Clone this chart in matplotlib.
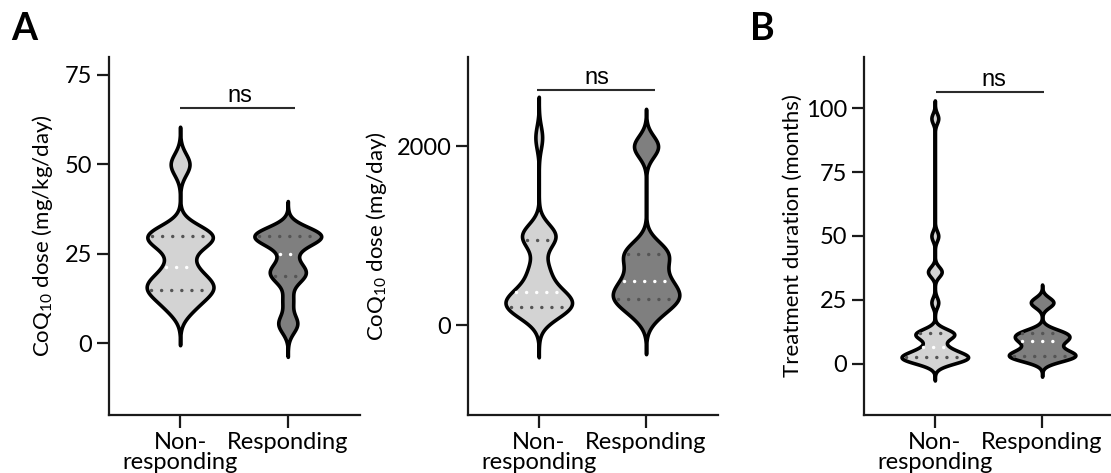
import numpy as np
import matplotlib
matplotlib.use("Agg")
import matplotlib.pyplot as plt

plt.rcParams['font.family'] = ['Lato', 'DejaVu Sans']
plt.rcParams['mathtext.default'] = 'regular'

groups = ["Non-\nresponding", "Responding"]

# A, left: CoQ10 dose (mg/kg/day)
dose_kg_non = [10, 10, 13, 15, 15, 15, 16, 17, 18, 20, 21.4, 25, 28, 29, 30, 30, 30, 31, 31, 50, 50]
dose_kg_resp = [5, 6, 12, 18, 19.5, 20, 21, 25, 29, 30, 30, 30, 30, 30, 31]

# A, right: CoQ10 dose (mg/day)
dose_day_non = [100, 150, 200, 200, 200, 210, 250, 300, 300, 350, 370, 400, 550, 600, 700,
                960, 1000, 1000, 1000, 1050, 2100]
dose_day_resp = [100, 200, 300, 300, 300, 400, 450, 500, 600, 700, 800, 800, 900, 2000, 2000]

# B: treatment duration (months)
months_non = [0.5, 1, 2, 2, 2, 2.5, 2.5, 3, 3, 4, 5, 6, 6.8, 10, 11, 12, 12, 12, 12,
              24, 36, 36, 50, 96]
months_resp = [2, 3, 3, 3, 3, 5, 6, 9, 9, 10, 12, 12, 12, 24, 24]

LIGHT = '#d3d3d3'
DARK = '#7f7f7f'
DOT_GRAY = '#555555'
CUT = 3.5
HALF_WIDTH = 0.31


def violin(ax, values, pos, bw, face):
    values = np.asarray(values, float)
    y = np.linspace(values.min() - CUT * bw, values.max() + CUT * bw, 800)
    dens = np.exp(-0.5 * ((y[:, None] - values[None, :]) / bw) ** 2).sum(axis=1)
    half = HALF_WIDTH * dens / dens.max()
    ax.fill_betweenx(y, pos - half, pos + half, facecolor=face, edgecolor='black',
                     linewidth=2.6, joinstyle='round', zorder=2)
    q1, med, q3 = np.percentile(values, [25, 50, 75])
    for q, c in ((q1, DOT_GRAY), (med, 'white'), (q3, DOT_GRAY)):
        w = np.interp(q, y, half) - 0.04
        if w <= 0:
            w = 0.005
        ax.plot([pos - w, pos + w], [q, q], color=c, lw=2.5,
                linestyle=(0, (0.01, 2.9)), dash_capstyle='round', zorder=3)


def style(ax, ylim, yticks, ylabel, label_x):
    ax.set_xlim(-0.66, 1.67)
    ax.set_ylim(*ylim)
    ax.set_yticks(yticks)
    ax.set_xticks([0, 1])
    ax.set_xticklabels(groups)
    for t in ax.get_xticklabels():
        t.set_linespacing(0.95)
    for s in ['top', 'right']:
        ax.spines[s].set_visible(False)
    for s in ['left', 'bottom']:
        ax.spines[s].set_linewidth(1.6)
        ax.spines[s].set_color('#1a1a1a')
    ax.tick_params(length=9, width=1.6, labelsize=17, pad=3, color='#1a1a1a')
    ax.set_ylabel(ylabel, fontsize=16)
    ax.yaxis.set_label_coords(label_x, 0.5)


def bracket(ax, x0, x1, y, text_x):
    ax.plot([x0, x1], [y, y], color='#2b2b2b', lw=1.5, solid_capstyle='butt', zorder=3)
    ax.annotate('ns', (text_x, y), xytext=(0, 4.5), textcoords='offset points',
                ha='center', va='baseline', fontsize=17, family='Liberation Sans')


fig = plt.figure(figsize=(11.11, 4.73), dpi=100)
ax1 = fig.add_axes([0.0981, 0.1226, 0.2259, 0.757])
ax2 = fig.add_axes([0.4212, 0.1226, 0.2250, 0.757])
ax3 = fig.add_axes([0.7777, 0.1226, 0.2250, 0.757])

violin(ax1, dose_kg_non, 0, 3.0, LIGHT)
violin(ax1, dose_kg_resp, 1, 2.5, DARK)
style(ax1, (-20, 80), [0, 25, 50, 75], 'CoQ$_{10}$ dose (mg/kg/day)', -0.215)
bracket(ax1, 0.0, 1.07, 65.7, 0.555)

violin(ax2, dose_day_non, 0, 130, LIGHT)
violin(ax2, dose_day_resp, 1, 120, DARK)
style(ax2, (-1000, 3000), [0, 2000], 'CoQ$_{10}$ dose (mg/day)', -0.315)
bracket(ax2, -0.02, 1.08, 2630, 0.54)

violin(ax3, months_non, 0, 2.0, LIGHT)
violin(ax3, months_resp, 1, 2.0, DARK)
style(ax3, (-20, 120), [0, 25, 50, 75, 100], 'Treatment duration (months)', -0.245)
bracket(ax3, 0.01, 1.02, 106.2, 0.55)

fig.text(0.0105, 1 - 40 / 473, 'A', fontsize=27, weight='bold', va='baseline')
fig.text(0.675, 1 - 40 / 473, 'B', fontsize=27, weight='bold', va='baseline')

fig.savefig('out.png', dpi=100)
